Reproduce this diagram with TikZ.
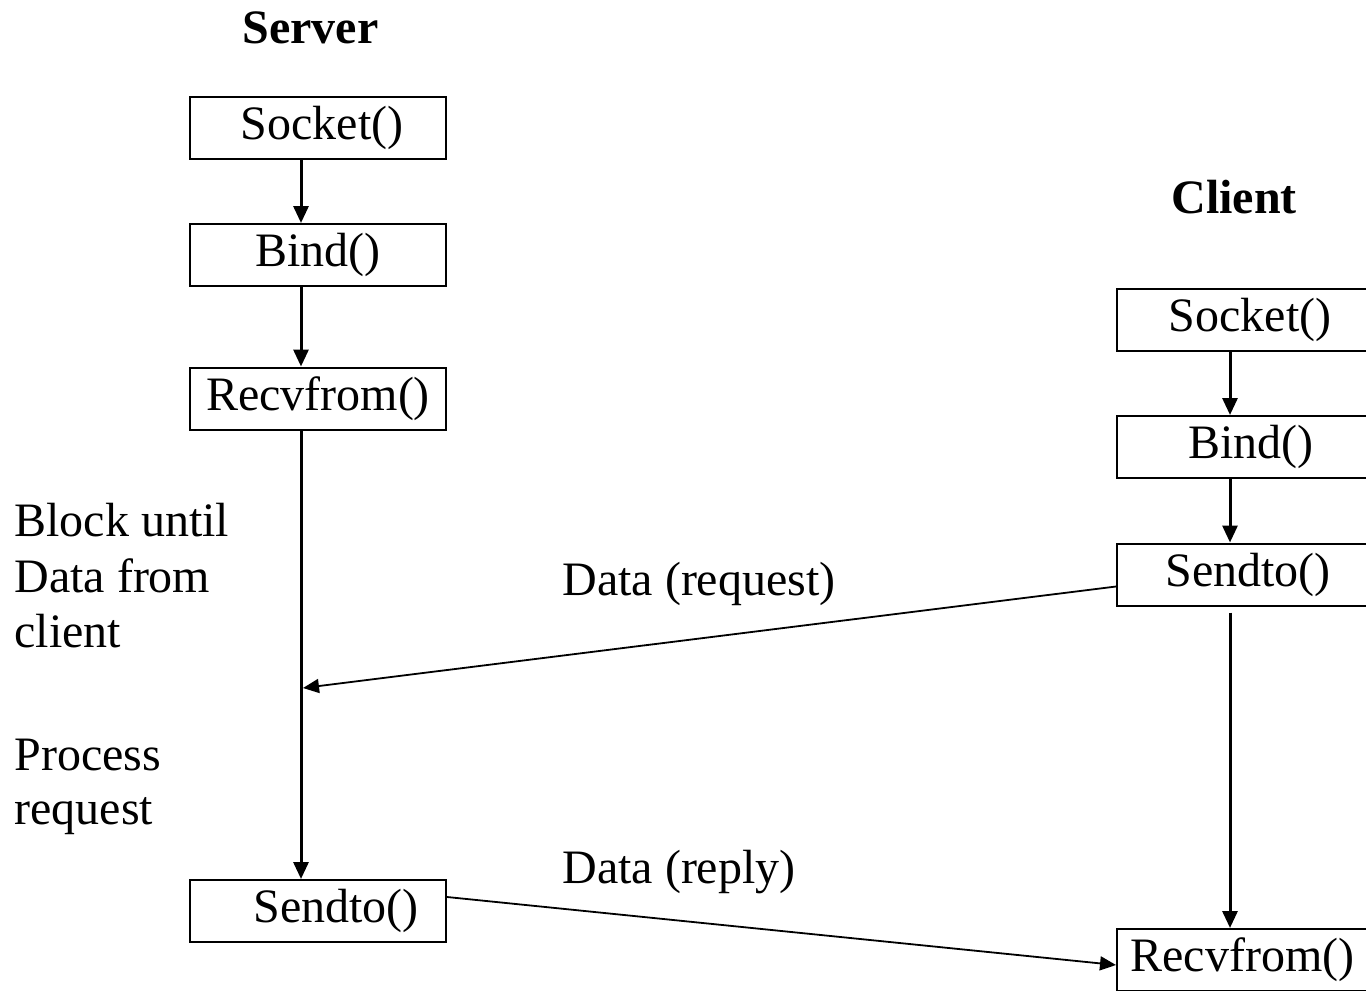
\documentclass[tikz,border=0pt]{standalone}
\usepackage{fontspec}
\setmainfont{Liberation Serif}
\usetikzlibrary{arrows.meta}
\begin{document}
\begin{tikzpicture}[x=0.5pt,y=-0.5pt,
  box/.style={draw,line width=1pt,minimum width=128pt,minimum height=31pt,inner sep=0pt,font=\fontsize{24}{28}\selectfont},
  cbox/.style={box,minimum width=125.5pt},
  flow/.style={-{Triangle[length=8.5pt,width=7.5pt]},line width=1.5pt},
  msg/.style={-{Triangle[length=8pt,width=7pt]},line width=0.9pt},
  lbl/.style={font=\fontsize{24}{28}\selectfont,inner sep=0pt,anchor=base west},
  ttl/.style={font=\fontsize{24}{28}\selectfont\bfseries,inner sep=0pt,anchor=base west}]
\useasboundingbox (0,0) rectangle (1366,991);

% titles
\node[ttl] (srv) at (242,43) {Server};
\node[ttl] (cli) at (1171,213) {Client};

% server boxes
\node[box] (sSock) at (318,128) {\hspace*{4pt}Socket()};
\node[box] (sBind) at (318,255) {Bind()};
\node[box] (sRecv) at (318,398.5) {Recvfrom()};
\node[box] (sSend) at (318,911) {\hspace*{18pt}Sendto()};

% client boxes
\node[cbox] (cSock) at (1242.5,319.5) {\hspace*{7.5pt}Socket()};
\node[cbox] (cBind) at (1242.5,447) {\hspace*{8.5pt}Bind()};
\node[cbox] (cSend) at (1242.5,574.5) {\hspace*{5.5pt}Sendto()};
\node[cbox] (cRecv) at (1242.5,960) {Recvfrom()};

\coordinate (sx) at (301,0);
\coordinate (cx) at (1230,0);

% server flow
\draw[flow] (sSock.south -| sx) -- (sBind.north -| sx);
\draw[flow] (sBind.south -| sx) -- (sRecv.north -| sx);
\draw[flow] (sRecv.south -| sx) -- (sSend.north -| sx);

% client flow
\draw[flow] (cSock.south -| cx) -- (cBind.north -| cx);
\draw[flow] (cBind.south -| cx) -- (cSend.north -| cx);
\draw[flow] ([yshift=-3pt]cSend.south -| cx) -- (cRecv.north -| cx);

% messages
\coordinate (reqEnd) at (303,688);
\draw[msg] ([yshift=-6pt]cSend.west) -- (reqEnd);
\draw[msg] ([yshift=7pt]sSend.east) -- ([yshift=-2.5pt]cRecv.west);

\node[lbl] (req) at (562,595) {Data (request)};
\node[lbl] (rep) at (562,883) {Data (reply)};

% side notes
\node[lbl] (b1) at (14,536) {Block until};
\node[lbl] (b2) at (14,592) {Data from};
\node[lbl] (b3) at (14,647) {client};
\node[lbl] (p1) at (14,770) {Process};
\node[lbl] (p2) at (14,824) {request};
\end{tikzpicture}
\end{document}
